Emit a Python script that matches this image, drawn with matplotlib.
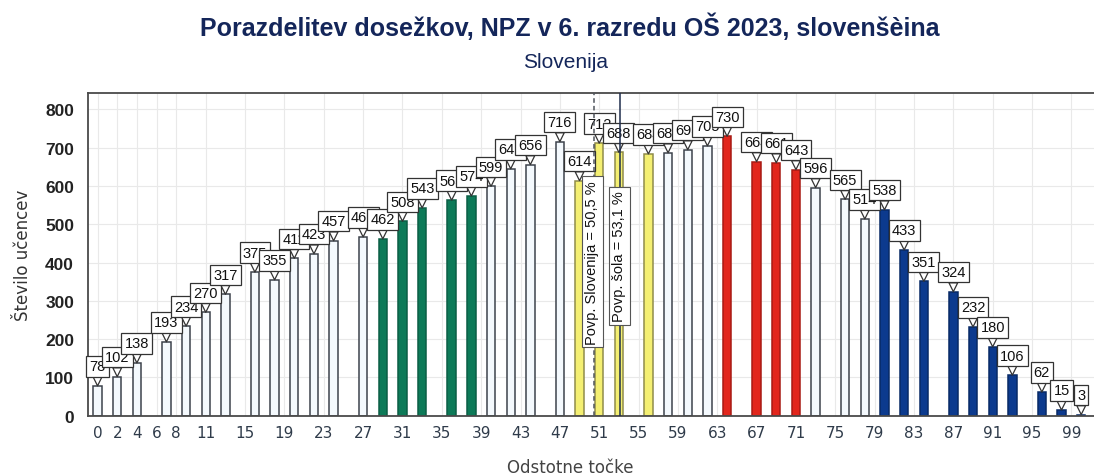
import matplotlib
matplotlib.use('Agg')
import matplotlib.pyplot as plt

# percent points of each bar (scores 0..45 of 45, shown as rounded percent)
points = [0, 2, 4, 7, 9, 11, 13, 16, 18, 20, 22, 24, 27, 29, 31, 33, 36, 38, 40, 42,
          44, 47, 49, 51, 53, 56, 58, 60, 62, 64, 67, 69, 71, 73, 76, 78, 80, 82, 84, 87,
          89, 91, 93, 96, 98, 100]
# number of pupils per score
counts = [78, 102, 138, 193, 234, 270, 317, 375, 355, 411, 423, 457, 467, 462, 508, 543,
          563, 574, 599, 645, 656, 716, 614, 712, 688, 684, 687, 695, 705, 730, 664, 661,
          643, 596, 565, 514, 538, 433, 351, 324, 232, 180, 106, 62, 15, 3]
tick_vals = [0, 2, 4, 6, 8, 11, 15, 19, 23, 27, 31, 35, 39, 43, 47, 51, 55, 59, 63, 67,
             71, 75, 79, 83, 87, 91, 95, 99]
mean_slo = 50.5
mean_school = 53.1

title = 'Porazdelitev dosežkov, NPZ v 6. razredu OŠ 2023, slovenšèina'
subtitle = 'Slovenija'

navy = '#14265a'


def bar_style(p):
    # colour bands of the original chart
    if 29 <= p <= 38:
        return '#0d7a58', '#0b5e45'
    if 49 <= p <= 56:
        return '#f4ef72', '#8f8c4a'
    if 64 <= p <= 71:
        return '#e2261c', '#a81a14'
    if p >= 80:
        return '#0c3a8e', '#082a66'
    return '#f4f9fd', '#3d434c'


fig = plt.figure(figsize=(10.94, 4.77), dpi=100)
ax = fig.add_axes([88 / 1094, (477 - 416.7) / 477, (1094 - 88) / 1094, (416.7 - 94) / 477])

styles = [bar_style(p) for p in points]
ax.bar(points, counts, width=0.85, color=[s[0] for s in styles],
       edgecolor=[s[1] for s in styles], linewidth=1.1, zorder=2)

for x, v in zip(points, counts):
    ax.annotate(str(v), xy=(x, v), xytext=(0, 9), textcoords='offset points',
                ha='center', va='bottom', fontsize=10.5, family='Liberation Sans',
                color='#111111',
                bbox=dict(boxstyle='square,pad=0.22', fc='white', ec='#333333', lw=0.9),
                arrowprops=dict(arrowstyle='wedge,tail_width=0.6,shrink_factor=0.5',
                                fc='white', ec='#333333', lw=0.9, shrinkA=0, shrinkB=0),
                annotation_clip=False, zorder=3)

ax.axvline(mean_slo, color='#50555c', lw=1.1, ls=(0, (3, 2)), zorder=4)
ax.axvline(mean_school, color='#1f2d4d', lw=1.1, zorder=4)
ax.text(50.3, 402, 'Povp. Slovenija = 50,5 %', rotation=90, ha='center', va='center',
        fontsize=10.5, family='Liberation Sans', color='#111111', zorder=5,
        bbox=dict(boxstyle='square,pad=0.25', fc='white', ec='#555555', lw=0.8))
ax.text(53.05, 418, 'Povp. šola = 53,1 %', rotation=90, ha='center', va='center',
        fontsize=10.5, family='Liberation Sans', color='#111111', zorder=5,
        bbox=dict(boxstyle='square,pad=0.25', fc='white', ec='#555555', lw=0.8))

ax.set_xlim(-0.97, 101.3)
ax.set_ylim(0, 843)
ax.set_xticks(tick_vals)
ax.set_xticklabels([str(t) for t in tick_vals], family='DejaVu Sans', fontsize=11,
                   color='#2f3b4a')
ax.set_yticks(range(0, 900, 100))
ax.set_yticklabels([str(t) for t in range(0, 900, 100)], family='Liberation Sans',
                   fontsize=12.5, fontweight='bold', color='#222222')
ax.tick_params(axis='x', length=0, pad=7)
ax.tick_params(axis='y', length=0, pad=10)

ax.set_axisbelow(True)
ax.grid(color='#e9e9e9', lw=0.8)
for side in ['left', 'bottom', 'top']:
    ax.spines[side].set_color('#4a4a4a')
    ax.spines[side].set_linewidth(1.3)
ax.spines['right'].set_visible(False)

ax.set_xlabel('Odstotne točke', family='DejaVu Sans', fontsize=12, color='#444444')
ax.xaxis.set_label_coords(0.479, -0.13)
ax.set_ylabel('Število učencev', family='DejaVu Sans', fontsize=12, color='#333333')
ax.yaxis.set_label_coords(-0.056, 0.5)

fig.text(0.521, 1 - 27 / 477, title, ha='center', va='center', fontsize=18,
         fontweight='bold', family='Liberation Sans', color=navy)
fig.text(0.517, 1 - 62 / 477, subtitle, ha='center', va='center', fontsize=15,
         family='Liberation Sans', color=navy)

fig.savefig('out.png', dpi=100)
